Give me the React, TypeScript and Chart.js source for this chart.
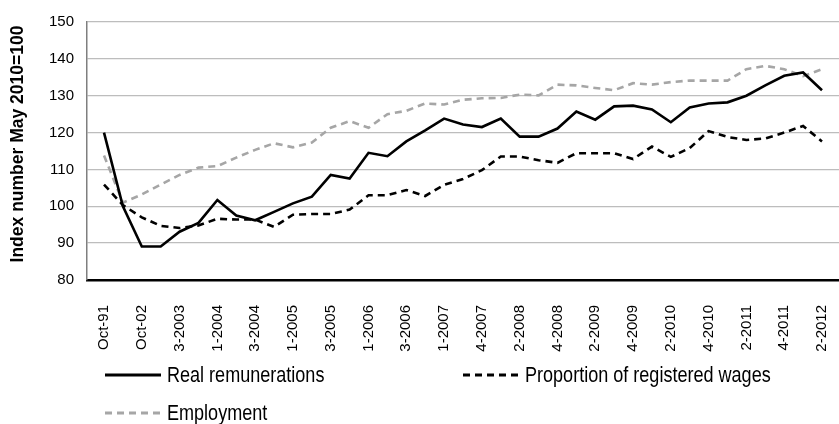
import React, { useEffect, useRef } from 'react';
import { Chart, registerables } from 'chart.js';

Chart.register(...registerables);

const tickLabels = [
  'Oct-91', 'Oct-02', '3-2003', '1-2004', '3-2004', '1-2005', '3-2005', '1-2006', '3-2006', '1-2007',
  '4-2007', '2-2008', '4-2008', '2-2009', '4-2009', '2-2010', '4-2010', '2-2011', '4-2011', '2-2012',
];

const realRemunerations = [
  120, 100, 89.1, 89.1, 93.1, 95.5, 101.7, 97.5, 96.2, 98.5,
  100.8, 102.6, 108.5, 107.5, 114.5, 113.6, 117.6, 120.6, 123.8, 122.2,
  121.5, 123.8, 118.9, 118.9, 121.1, 125.7, 123.5, 127.1, 127.3, 126.3,
  122.8, 126.8, 127.9, 128.2, 130.0, 132.8, 135.4, 136.3, 131.5,
];

const registeredWages = [
  105.9, 100.3, 97.0, 94.7, 94.1, 94.8, 96.6, 96.4, 96.4, 94.4,
  97.7, 97.9, 97.9, 99.1, 103.0, 103.0, 104.4, 102.8, 105.8, 107.4,
  109.8, 113.5, 113.5, 112.5, 111.8, 114.4, 114.4, 114.4, 112.8, 116.2,
  113.4, 115.8, 120.4, 118.8, 118.0, 118.4, 120.0, 121.8, 117.6,
];

const employment = [
  113.8, 101.0, 103.2, 105.9, 108.5, 110.5, 110.9, 113.2, 115.3, 117.1,
  116.0, 117.3, 121.3, 123.1, 121.3, 125.0, 125.9, 127.9, 127.6, 128.9,
  129.3, 129.4, 130.3, 130.1, 133.0, 132.8, 132.1, 131.5, 133.4, 133.0,
  133.7, 134.1, 134.1, 134.1, 137.2, 138.1, 137.2, 135.3, 137.2,
];

const seriesNames = ['Real remunerations', 'Proportion of registered wages', 'Employment'];
const yTitle = 'Index number May 2010=100';

const SANS = '"Liberation Sans", Arial, sans-serif';

// Y-axis title and two-column legend drawn on the canvas
const decorPlugin = {
  id: 'decor',
  afterDraw(chart: any) {
    const ctx = chart.ctx;
    const area = chart.chartArea;

    ctx.save();
    ctx.translate(18, (area.top + area.bottom) / 2 - 7);
    ctx.rotate(-Math.PI / 2);
    ctx.fillStyle = '#000';
    ctx.font = `bold 17.5px ${SANS}`;
    ctx.textAlign = 'center';
    ctx.textBaseline = 'middle';
    ctx.fillText(yTitle, 0, 0);
    ctx.restore();

    const positions = [
      { x: area.left + 18, y: 375 },
      { x: area.left + 376, y: 375 },
      { x: area.left + 18, y: 413 },
    ];
    ctx.save();
    chart.data.datasets.forEach((ds: any, i: number) => {
      const p = positions[i];
      ctx.beginPath();
      ctx.strokeStyle = ds.borderColor;
      ctx.lineWidth = 3;
      ctx.setLineDash(ds.borderDash || []);
      ctx.lineCap = 'butt';
      ctx.moveTo(p.x, p.y);
      ctx.lineTo(p.x + 56, p.y);
      ctx.stroke();
      ctx.setLineDash([]);
      ctx.save();
      ctx.translate(p.x + 62, p.y + 1);
      ctx.scale(0.82, 1);
      ctx.fillStyle = '#000';
      ctx.font = `22px ${SANS}`;
      ctx.textBaseline = 'middle';
      ctx.textAlign = 'left';
      ctx.fillText(ds.label, 0, 0);
      ctx.restore();
    });
    ctx.restore();
  },
};

export default function App() {
  const canvasRef = useRef<HTMLCanvasElement | null>(null);

  useEffect(() => {
    document.body.style.margin = '0';
    const canvas = canvasRef.current;
    if (!canvas) return;
    const toPoints = (arr: number[]) => arr.map((v, i) => ({ x: i, y: v }));
    const chart = new Chart(canvas, {
      type: 'line',
      data: {
        datasets: [
          {
            label: seriesNames[0],
            data: toPoints(realRemunerations),
            borderColor: '#000000',
            borderWidth: 2.6,
            pointRadius: 0,
            tension: 0,
          },
          {
            label: seriesNames[1],
            data: toPoints(registeredWages),
            borderColor: '#000000',
            borderWidth: 2.6,
            borderDash: [7, 5],
            pointRadius: 0,
            tension: 0,
          },
          {
            label: seriesNames[2],
            data: toPoints(employment),
            borderColor: '#a6a6a6',
            borderWidth: 2.6,
            borderDash: [7, 5],
            pointRadius: 0,
            tension: 0,
          },
        ],
      },
      options: {
        responsive: false,
        animation: false,
        devicePixelRatio: 1,
        layout: { padding: { top: 15, left: 0, right: 0, bottom: 0 } },
        plugins: {
          legend: { display: false },
          tooltip: { enabled: false },
        },
        scales: {
          x: {
            type: 'linear',
            min: -0.9,
            max: 38.9,
            grid: { display: false },
            border: { display: true, color: '#000000', width: 2.5 },
            afterBuildTicks: (axis: any) => {
              axis.ticks = tickLabels.map((_, i) => ({ value: i * 2 }));
            },
            afterFit: (axis: any) => {
              axis.height = 144;
              axis.paddingLeft = 0;
              axis.paddingRight = 0;
            },
            ticks: {
              autoSkip: false,
              minRotation: 90,
              maxRotation: 90,
              padding: 17,
              color: '#000000',
              font: { family: SANS, size: 15 },
              callback: (v: any) => tickLabels[Math.round(Number(v) / 2)] ?? '',
            },
          },
          y: {
            min: 80,
            max: 150,
            ticks: {
              stepSize: 10,
              padding: 13,
              color: '#000000',
              font: { family: SANS, size: 15 },
            },
            grid: {
              color: (c: any) => (c.tick && c.tick.value === 80 ? 'rgba(0,0,0,0)' : '#bdbdbd'),
              lineWidth: 1.3,
              drawTicks: false,
            },
            border: { display: true, color: '#7f7f7f', width: 1.5 },
            title: { display: false },
            afterFit: (axis: any) => {
              axis.width = 87;
            },
          },
        },
      },
      plugins: [decorPlugin],
    } as any);
    return () => chart.destroy();
  }, []);

  return (
    <div style={{ width: 839, height: 424 }}>
      <canvas ref={canvasRef} width={839} height={424} style={{ display: 'block' }} />
    </div>
  );
}
